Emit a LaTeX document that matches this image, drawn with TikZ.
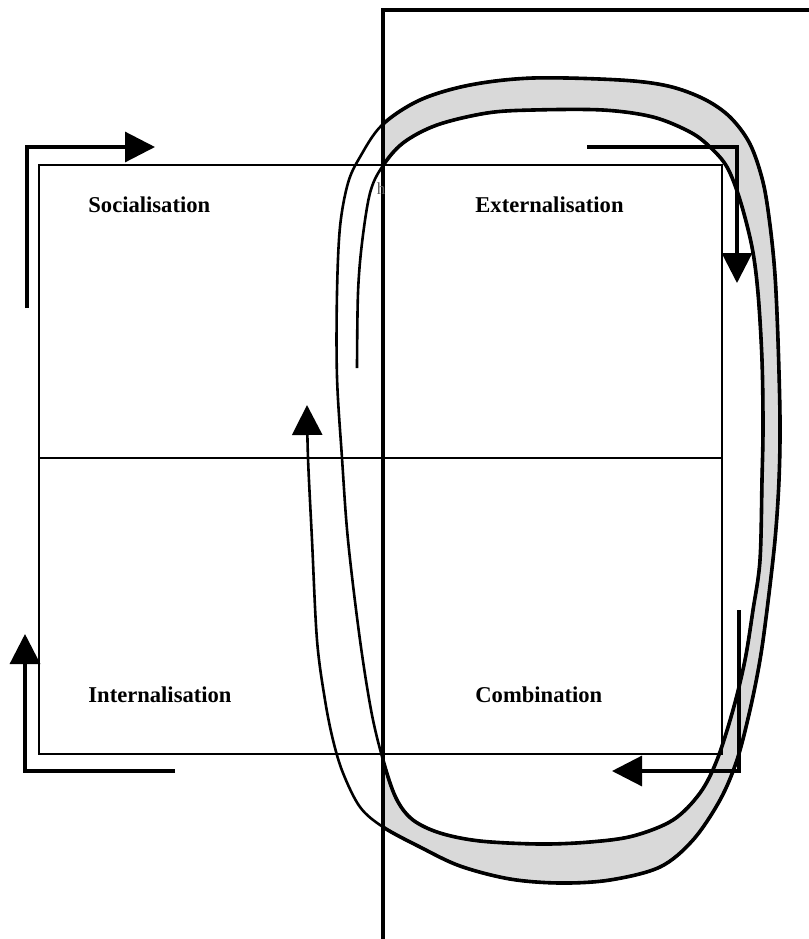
\documentclass[tikz,border=0pt]{standalone}
\usepackage{fontspec}
\setmainfont{Liberation Serif}
\usetikzlibrary{arrows.meta}
\definecolor{band}{RGB}{217,217,217}
\definecolor{faint}{RGB}{90,90,90}

\begin{document}
\begin{tikzpicture}[x=0.5pt, y=-0.5pt, >={Triangle[length=15pt, width=15pt]},
  font=\fontsize{11.3}{13}\selectfont\bfseries]
\useasboundingbox (0,0) rectangle (809,939);
\def\spiral{plot[smooth, tension=0.55] coordinates {(357,368) (358,293) (362,243)
  (370,193) (382,167) (403,143) (437,125) (487,113) (533,110) (603,110) (653,117)
  (690,132) (710,147) (727,167) (740,200) (752,247) (758,293) (762,360) (763,427)
  (762,480) (760,560) (753,610) (745,660) (733,710) (717,760) (700,793) (673,820)
  (633,836) (590,842) (540,844) (480,841) (440,833) (413,820) (397,800) (385,767)
  (372,715) (360,640) (348,540) (342,458) (337,377) (337,293) (340,227) (348,183)
  (360,157) (382,125) (420,100) (470,85) (533,78) (620,80) (668,86) (704,99)
  (730,117) (750,144) (763,182) (770,225) (775,275) (778,340) (780,420) (779,480)
  (775,540) (767,610) (760,660) (750,710) (737,760) (720,800) (693,840) (660,867)
  (610,880) (560,883) (510,879) (460,866) (420,847) (383,827) (360,807) (343,773)
  (333,740) (325,700) (317,640) (312,540) (308,458) (307,405)}}

% ---- grey band, right half only ----
\begin{scope}
  \clip (383,0) rectangle (809,939);
  \fill[band, even odd rule] \spiral -- cycle;
\end{scope}

% ---- grid ----
\draw[line width=0.6pt] (39,165) rectangle (722,754);
\draw[line width=0.6pt] (39,458) -- (722,458);

% ---- labels ----
\node[anchor=base west, inner sep=0pt] (soc) at (88,212) {Socialisation};
\node[anchor=base west, inner sep=0pt] (ext) at (475,212) {Externalisation};
\node[anchor=base west, inner sep=0pt] (int) at (88,702) {Internalisation};
\node[anchor=base west, inner sep=0pt] (com) at (475,702) {Combination};

% ---- spiral: thin on the left, heavier on the right ----
\draw[->, line width=1.3pt] \spiral;
\begin{scope}
  \clip (383,0) rectangle (809,939);
  \draw[line width=1.8pt] \spiral;
\end{scope}

% ---- frame edge ----
\draw[line width=1.6pt] (383,939) -- (383,10) -- (809,10);
\node[anchor=base, inner sep=0pt, font=\fontsize{8.5}{10}\selectfont\mdseries,
  color=faint] (h) at (381,194) {h};

% ---- cycle arrows ----
\foreach \p/\q/\r in {{27,308}/{27,147}/{155,147}, {587,147}/{737,147}/{737,283},
                      {739,610}/{739,771}/{612,771}, {175,771}/{25,771}/{25,634}}{
  \draw[->, line width=1.6pt] (\p) -- (\q) -- (\r);
}
\end{tikzpicture}
\end{document}
